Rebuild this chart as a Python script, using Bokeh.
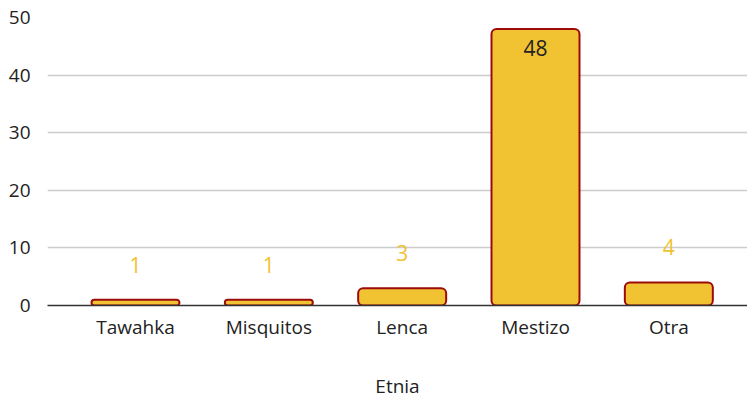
from bokeh.plotting import figure
from bokeh.models import Range1d, FixedTicker, ColumnDataSource
from bokeh.core.properties import value
from bokeh.embed import file_html
from bokeh.resources import INLINE

categories = ["Tawahka", "Misquitos", "Lenca", "Mestizo", "Otra"]
counts = [1, 1, 3, 48, 4]
y_ticks = [0, 10, 20, 30, 40, 50]
x_title = "Etnia"

FONT = "Open Sans"
xs = list(range(len(categories)))

p = figure(width=747, height=400, output_backend="svg", toolbar_location=None,
           x_range=Range1d(-0.66, 4.59), y_range=Range1d(0, 50),
           min_border_left=47, min_border_right=0, min_border_top=17, min_border_bottom=95)
p.frame_width = 700
p.frame_height = 288
p.outline_line_color = None

src = ColumnDataSource(dict(x=xs, top=counts, label=[str(c) for c in counts]))
p.vbar(x="x", top="top", width=0.66, source=src, fill_color="#F1C232",
       line_color="#9C0A0A", line_width=2, border_radius=5)

small = [i for i, c in enumerate(counts) if c < 20]
big = [i for i, c in enumerate(counts) if c >= 20]
p.text(x=[xs[i] for i in small], y=[counts[i] for i in small],
       text=[str(counts[i]) for i in small], y_offset=-35,
       text_align="center", text_baseline="middle", text_color="#F1C232",
       text_font=value(FONT), text_font_size="21px")
p.text(x=[xs[i] for i in big], y=[counts[i] for i in big],
       text=[str(counts[i]) for i in big], y_offset=19,
       text_align="center", text_baseline="middle", text_color="#222222",
       text_font=value(FONT), text_font_size="21px")

p.xaxis.ticker = FixedTicker(ticks=xs)
p.xaxis.major_label_overrides = {i: c for i, c in enumerate(categories)}
p.xaxis.major_tick_line_color = None
p.xaxis.minor_tick_line_color = None
p.xaxis.axis_line_color = "#333333"
p.xaxis.axis_line_width = 1.5
p.xaxis.major_label_text_font = FONT
p.xaxis.major_label_text_font_size = "19px"
p.xaxis.major_label_text_color = "#222222"
p.xaxis.major_label_standoff = 2
p.xaxis.axis_label = x_title
p.xaxis.axis_label_text_font = FONT
p.xaxis.axis_label_text_font_size = "19px"
p.xaxis.axis_label_text_font_style = "normal"
p.xaxis.axis_label_text_color = "#222222"
p.xaxis.axis_label_standoff = 30

p.yaxis.ticker = FixedTicker(ticks=y_ticks)
p.yaxis.major_tick_line_color = None
p.yaxis.minor_tick_line_color = None
p.yaxis.axis_line_color = None
p.yaxis.major_label_text_font = FONT
p.yaxis.major_label_text_font_size = "19px"
p.yaxis.major_label_text_color = "#222222"
p.yaxis.major_label_standoff = 11

p.xgrid.grid_line_color = None
p.ygrid.grid_line_color = "#CCCCCC"
p.ygrid.grid_line_width = 1.5
p.ygrid.ticker = FixedTicker(ticks=y_ticks)

open("out.html", "w").write(file_html(p, INLINE))
